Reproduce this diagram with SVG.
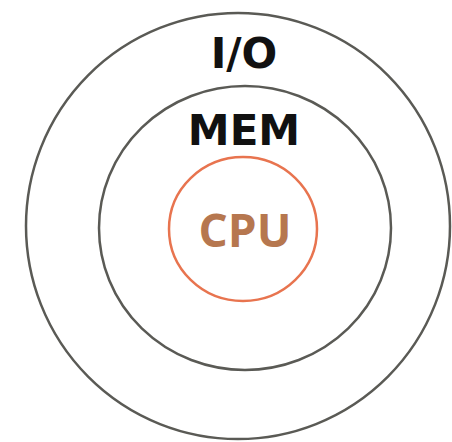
<svg xmlns="http://www.w3.org/2000/svg" width="452" height="442" viewBox="0 0 452 442">
<style>
.ring{fill:none;stroke:#5a5a55;stroke-width:2.5}
.lbl{font-family:"DejaVu Sans",sans-serif;font-weight:bold;fill:#111;text-anchor:middle}
</style>
<rect width="452" height="442" fill="#fff"/>
<g id="io">
<ellipse class="ring" cx="238" cy="226" rx="212" ry="213"/>
<text class="lbl" x="244" y="68" font-size="42">I/O</text>
</g>
<g id="mem">
<ellipse class="ring" cx="245" cy="228" rx="146" ry="142"/>
<text class="lbl" x="244" y="145" font-size="42">MEM</text>
</g>
<g id="cpu">
<ellipse cx="243" cy="229" rx="74" ry="72" fill="none" stroke="#e8744f" stroke-width="2.5"/>
<text x="245" y="247" font-size="46" font-family="'Open Sans',sans-serif" font-weight="bold" fill="#b6774f" text-anchor="middle">CPU</text>
</g>
<g id="connectors"/>
</svg>
